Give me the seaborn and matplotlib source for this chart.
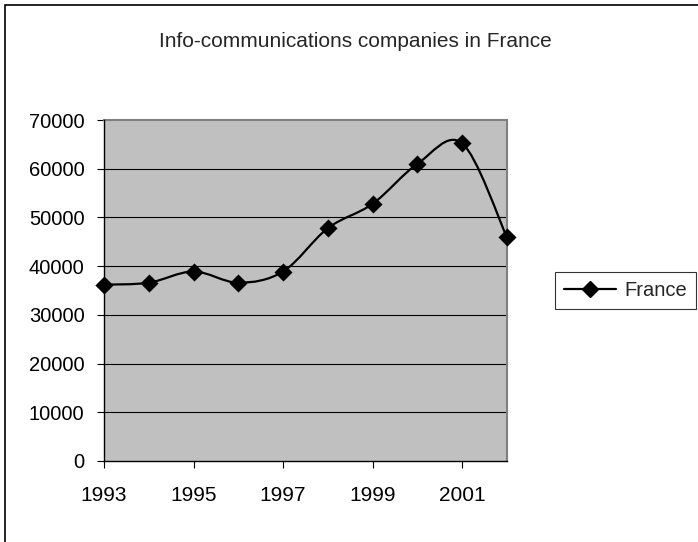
import matplotlib
matplotlib.use("Agg")
import matplotlib.pyplot as plt
from matplotlib.path import Path
from matplotlib.patches import PathPatch, Rectangle
from matplotlib.lines import Line2D
import numpy as np
import pandas as pd
import seaborn as sns

years = [1993, 1994, 1995, 1996, 1997, 1998, 1999, 2000, 2001, 2002]
companies = [36200, 36600, 38900, 36600, 38900, 47800, 52800, 61000, 65200, 45900]
series_name = "France"
title = "Info-communications companies in France"
x_ticks = [1993, 1995, 1997, 1999, 2001]
y_ticks = [0, 10000, 20000, 30000, 40000, 50000, 60000, 70000]

df = pd.DataFrame({"year": years, "companies": companies})

sns.set_style("white")
plt.rcParams["font.family"] = ["Liberation Sans", "DejaVu Sans"]

W, H = 698, 542
fig = plt.figure(figsize=(W / 100, H / 100), dpi=100)
ax = fig.add_axes([104 / W, (H - 461) / H, (507 - 104) / W, (461 - 120) / H])
ax.set_facecolor("#C0C0C0")

# smoothed line (Excel-style bezier through the data points)
pts = df[["year", "companies"]].to_numpy(dtype=float)
ext = np.vstack([pts[0], pts, pts[-1]])
verts = [tuple(pts[0])]
codes = [Path.MOVETO]
for i in range(1, len(ext) - 2):
    p0, p1, p2, p3 = ext[i - 1], ext[i], ext[i + 1], ext[i + 2]
    c1 = p1 + (p2 - p0) / 6
    c2 = p2 - (p3 - p1) / 6
    verts += [tuple(c1), tuple(c2), tuple(p2)]
    codes += [Path.CURVE4] * 3
ax.add_patch(PathPatch(Path(verts, codes), facecolor="none", edgecolor="black",
                       lw=1.6, zorder=3, clip_on=False))

sns.scatterplot(data=df, x="year", y="companies", marker="D", s=85, color="black",
                edgecolor="black", linewidth=0, zorder=4, ax=ax, clip_on=False,
                legend=False)

for v in y_ticks[1:-1]:
    ax.axhline(v, color="black", lw=0.8, zorder=1)

ax.set_xlim(1993, 2002)
ax.set_ylim(0, 70000)
ax.set_xticks(x_ticks)
ax.set_yticks(y_ticks)
ax.set_xticklabels([str(x) for x in x_ticks])
ax.set_yticklabels([str(y) for y in y_ticks])
ax.set_xlabel("")
ax.set_ylabel("")
ax.tick_params(axis="both", direction="out", length=5, width=0.8, color="black",
               labelcolor="black", bottom=True, left=True)
ax.tick_params(axis="x", pad=13, labelsize=15)
ax.tick_params(axis="y", pad=9, labelsize=14.5)

for side in ["left", "bottom"]:
    ax.spines[side].set_color("black")
    ax.spines[side].set_linewidth(1.0)
for side in ["top", "right"]:
    ax.spines[side].set_color("#808080")
    ax.spines[side].set_linewidth(1.5)
ax.spines["left"].set_zorder(5)
ax.spines["bottom"].set_zorder(5)

fig.text(355 / W, 1 - 47 / H, title, ha="center", va="baseline", fontsize=15)

handle = Line2D([], [], color="black", lw=1.6, marker="D", markersize=8)
leg = fig.legend([handle], [series_name], loc="center left",
                 bbox_to_anchor=(555 / W, 1 - 290.5 / H), frameon=True,
                 fancybox=False, edgecolor="black", fontsize=14.5,
                 handlelength=2.6, borderpad=0.45, handletextpad=0.4,
                 borderaxespad=0)
leg.get_frame().set_linewidth(0.8)

# outer chart border
fig.patches.append(Rectangle((5 / W, -0.1), 1.2, 1 - 5 / H + 0.1, transform=fig.transFigure,
                             facecolor="none", edgecolor="black", lw=1.2))

fig.savefig("out.png", dpi=100)
